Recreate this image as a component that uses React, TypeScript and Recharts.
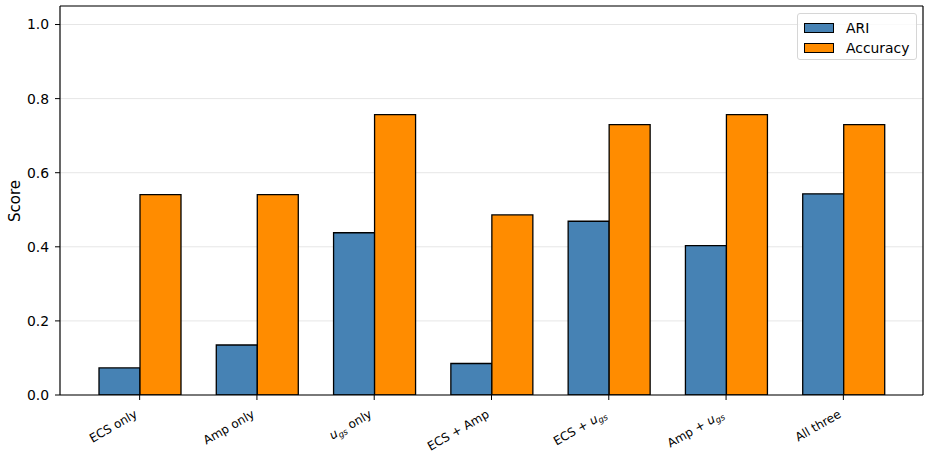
import React from 'react';
import { BarChart, Bar, XAxis, YAxis, CartesianGrid, Legend } from 'recharts';

document.body.style.margin = '0';

const categories = ['ECS only', 'Amp only', 'u_gs only', 'ECS + Amp', 'ECS + u_gs', 'Amp + u_gs', 'All three'];
const ariScores = [0.073, 0.135, 0.438, 0.085, 0.469, 0.403, 0.543];
const accuracyScores = [0.541, 0.541, 0.757, 0.486, 0.73, 0.757, 0.73];
const yTicks = [0, 0.2, 0.4, 0.6, 0.8, 1.0];

const FONT = 'DejaVu Sans';
const ARI_COLOR = '#4682b4';
const ACC_COLOR = '#ff8c00';

const data = categories.map((name, i) => ({ name, ARI: ariScores[i], Accuracy: accuracyScores[i] }));

// x tick labels, rotated 30deg with u_gs drawn as italic u + subscript gs
const CategoryTick = (props: any) => {
  const { x, y, payload } = props;
  const parts = String(payload.value).split('u_gs');
  const ax = x - 1.5;
  const ay = y + 11.5;
  return (
    <text
      x={ax}
      y={ay}
      transform={`rotate(-30, ${ax}, ${ay})`}
      textAnchor="end"
      fontSize={12}
      fontFamily={FONT}
      fill="#000"
      style={{ whiteSpace: 'pre' }}
    >
      {parts.map((p, i) =>
        i === 0 ? (
          <tspan key={i}>{p}</tspan>
        ) : (
          <React.Fragment key={i}>
            <tspan fontStyle="italic">u</tspan>
            <tspan fontStyle="italic" fontSize={8.5} dy={2.5}>gs</tspan>
            <tspan dy={-2.5}>{p || '\u200b'}</tspan>
          </React.Fragment>
        )
      )}
    </text>
  );
};

const ScoreLabel = () => (
  <text
    x={20}
    y={201}
    transform="rotate(-90, 20, 201)"
    textAnchor="middle"
    fontSize={15}
    fontFamily={FONT}
    fill="#000"
  >
    Score
  </text>
);

const LegendBox = () => (
  <div
    style={{
      boxSizing: 'border-box',
      width: 120,
      height: 47,
      padding: '4px 6px 3px 6px',
      border: '1px solid #d6d6d6',
      borderRadius: 3,
      background: 'rgba(255,255,255,0.8)',
      fontFamily: FONT,
      fontSize: 13.9,
      color: '#000',
    }}
  >
    {[
      { label: 'ARI', color: ARI_COLOR },
      { label: 'Accuracy', color: ACC_COLOR },
    ].map((item) => (
      <div key={item.label} style={{ height: 20, display: 'flex', alignItems: 'center' }}>
        <span
          style={{
            display: 'inline-block',
            boxSizing: 'border-box',
            width: 30,
            height: 10,
            background: item.color,
            border: '1px solid #000',
            marginRight: 12,
          }}
        />
        <span>{item.label}</span>
      </div>
    ))}
  </div>
);

export default function App() {
  return (
    <div style={{ width: 931, height: 452, background: '#fff' }}>
      <BarChart
        width={931}
        height={452}
        data={data}
        margin={{ top: 5, right: 7, left: 0, bottom: 0 }}
        barGap={0}
        barSize={41}
      >
        <CartesianGrid vertical={false} stroke="#e6e6e6" strokeWidth={1} />
        <XAxis
          dataKey="name"
          interval={0}
          height={57}
          padding={{ left: 21, right: 21 }}
          axisLine={{ stroke: '#000', strokeWidth: 1.2 }}
          tickLine={{ stroke: '#000', strokeWidth: 1 }}
          tickSize={5}
          tickMargin={5}
          tick={<CategoryTick />}
        />
        <XAxis
          xAxisId="top"
          dataKey="name"
          orientation="top"
          height={1}
          tick={false}
          tickLine={false}
          axisLine={{ stroke: '#000', strokeWidth: 1.2 }}
        />
        <YAxis
          width={60}
          domain={[0, 1.05]}
          ticks={yTicks}
          interval={0}
          allowDataOverflow
          tickFormatter={(v: number) => v.toFixed(1)}
          axisLine={{ stroke: '#000', strokeWidth: 1.2 }}
          tickLine={{ stroke: '#000', strokeWidth: 1 }}
          tickSize={5}
          tickMargin={6}
          tick={{ fontSize: 13.9, fontFamily: FONT, fill: '#000' }}
          label={<ScoreLabel />}
        />
        <YAxis
          yAxisId="right"
          orientation="right"
          width={1}
          domain={[0, 1.05]}
          tick={false}
          tickLine={false}
          axisLine={{ stroke: '#000', strokeWidth: 1.2 }}
        />
        <Legend
          verticalAlign="middle"
          align="center"
          content={<LegendBox />}
          wrapperStyle={{ top: 13, left: 797, width: 120, height: 47 }}
        />
        <Bar dataKey="ARI" fill={ARI_COLOR} stroke="#000" strokeWidth={1.3} isAnimationActive={false} />
        <Bar dataKey="Accuracy" fill={ACC_COLOR} stroke="#000" strokeWidth={1.3} isAnimationActive={false} />
      </BarChart>
    </div>
  );
}
